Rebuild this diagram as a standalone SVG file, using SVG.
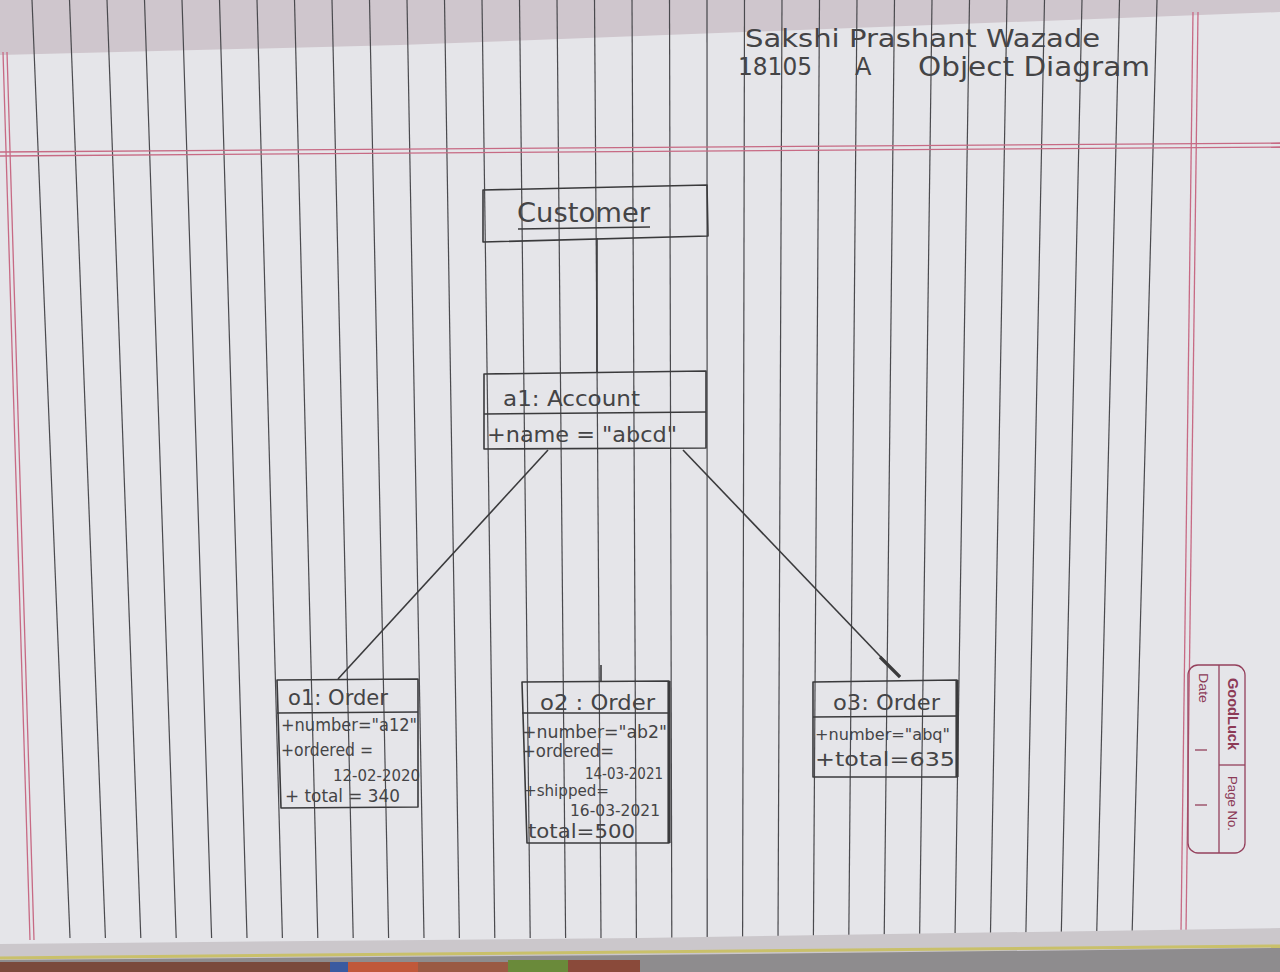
<svg xmlns="http://www.w3.org/2000/svg" width="1280" height="972" viewBox="0 0 1280 972">
<defs>
<style>
.rule{stroke:#4a4a4e;stroke-width:1.2;fill:none}
.red{stroke:#c76a84;stroke-width:1.3;fill:none}
.ink{stroke:#3a3a3c;stroke-width:1.6;fill:none;stroke-linejoin:round}
.thick{stroke:#3a3a3c;stroke-width:3.2;fill:none}
.hw{font-family:"DejaVu Sans","Liberation Sans",sans-serif;fill:#444446}
.stamp{stroke:#94405c;stroke-width:1.3;fill:none}
.st{font-family:"Liberation Sans",Arial,sans-serif;fill:#8c3a56}
</style>
</defs>
<g id="page">
<rect x="0" y="0" width="1280" height="972" fill="#e5e5e9"/>
<polygon points="0,0 1280,0 1280,12 800,30 400,45 0,55" fill="#cfc6cd"/>
<g class="rule">
<line x1="32" y1="0" x2="70" y2="938"/>
<line x1="69.5" y1="0" x2="105.4" y2="938"/>
<line x1="107" y1="0" x2="140.8" y2="938"/>
<line x1="144.5" y1="0" x2="176.2" y2="938"/>
<line x1="182" y1="0" x2="211.6" y2="938"/>
<line x1="219.5" y1="0" x2="247" y2="938"/>
<line x1="257" y1="0" x2="282.4" y2="938"/>
<line x1="294.5" y1="0" x2="317.8" y2="938"/>
<line x1="332" y1="0" x2="353.2" y2="938"/>
<line x1="369.5" y1="0" x2="388.6" y2="938"/>
<line x1="407" y1="0" x2="424" y2="938"/>
<line x1="444.5" y1="0" x2="459.4" y2="938"/>
<line x1="482" y1="0" x2="494.8" y2="938"/>
<line x1="519.5" y1="0" x2="530.2" y2="938"/>
<line x1="557" y1="0" x2="565.6" y2="938"/>
<line x1="594.5" y1="0" x2="601" y2="938"/>
<line x1="632" y1="0" x2="636.4" y2="938"/>
<line x1="669.5" y1="0" x2="671.8" y2="938"/>
<line x1="707" y1="0" x2="707.2" y2="938"/>
<line x1="744.5" y1="0" x2="742.6" y2="938"/>
<line x1="782" y1="0" x2="778" y2="938"/>
<line x1="819.5" y1="0" x2="813.4" y2="938"/>
<line x1="857" y1="0" x2="848.8" y2="938"/>
<line x1="894.5" y1="0" x2="884.2" y2="938"/>
<line x1="932" y1="0" x2="919.6" y2="938"/>
<line x1="969.5" y1="0" x2="955" y2="938"/>
<line x1="1007" y1="0" x2="990.4" y2="938"/>
<line x1="1044.5" y1="0" x2="1025.8" y2="938"/>
<line x1="1082" y1="0" x2="1061.2" y2="938"/>
<line x1="1119.5" y1="0" x2="1096.6" y2="938"/>
<line x1="1157" y1="0" x2="1132" y2="938"/>
</g>
<g class="red">
<line x1="3" y1="52" x2="30" y2="940"/>
<line x1="7" y1="52" x2="34" y2="940"/>
<line x1="0" y1="152" x2="1280" y2="143"/>
<line x1="0" y1="156" x2="1280" y2="147"/>
<line x1="1193" y1="12" x2="1181" y2="932"/>
<line x1="1198" y1="12" x2="1186" y2="932"/>
</g>
<polygon points="0,944 640,938 1280,928 1280,972 0,972" fill="#cbc7cb"/>
<polygon points="0,960 640,955 1280,948 1280,972 0,972" fill="#8e8c8e"/>
<rect x="0" y="962" width="330" height="10" fill="#7a4a3c"/>
<rect x="330" y="962" width="18" height="10" fill="#3a5aa0"/>
<rect x="348" y="962" width="70" height="10" fill="#c0583a"/>
<rect x="418" y="962" width="90" height="10" fill="#9a5a44"/>
<rect x="508" y="960" width="60" height="12" fill="#6a8a3a"/>
<rect x="568" y="960" width="72" height="12" fill="#8a4a3a"/>
<line x1="0" y1="958" x2="1280" y2="946" stroke="#c9c06a" stroke-width="3"/>
</g>
<g id="header">
<text class="hw" x="745" y="47" font-size="24" textLength="355" lengthAdjust="spacingAndGlyphs">Sakshi Prashant Wazade</text>
<text class="hw" x="738" y="75" font-size="24" textLength="74" lengthAdjust="spacingAndGlyphs">18105</text>
<text class="hw" x="855" y="75" font-size="24">A</text>
<text class="hw" x="918" y="76" font-size="26" textLength="232" lengthAdjust="spacingAndGlyphs">Object Diagram</text>
</g>
<g id="connectors">
<line class="ink" x1="597" y1="238" x2="597" y2="372"/>
<line class="ink" x1="548" y1="450" x2="338" y2="679"/>
<line class="ink" x1="683" y1="450" x2="900" y2="677"/>
<line class="thick" x1="880" y1="657" x2="900" y2="677"/>
<line class="ink" x1="601" y1="665" x2="601" y2="682"/>
</g>
<g id="customer">
<polygon class="ink" points="483,190 707,185 708,236 483,242"/>
<text class="hw" x="517" y="222" font-size="26" textLength="133" lengthAdjust="spacingAndGlyphs">Customer</text>
<line class="ink" x1="518" y1="229" x2="650" y2="227"/>
</g>
<g id="account">
<polygon class="ink" points="484,374 706,371 706,448 484,449"/>
<line class="ink" x1="484" y1="414" x2="706" y2="412"/>
<text class="hw" x="503" y="406" font-size="22" textLength="137" lengthAdjust="spacingAndGlyphs">a1: Account</text>
<text class="hw" x="487" y="442" font-size="21" textLength="190" lengthAdjust="spacingAndGlyphs">+name = "abcd"</text>
</g>
<g id="order1">
<polygon class="ink" points="277,680 418,679 418,807 281,808"/>
<line class="ink" x1="277" y1="713" x2="418" y2="712"/>
<text class="hw" x="288" y="705" font-size="21" textLength="100" lengthAdjust="spacingAndGlyphs">o1: Order</text>
<text class="hw" x="281" y="731" font-size="17" textLength="136" lengthAdjust="spacingAndGlyphs">+number="a12"</text>
<text class="hw" x="281" y="756" font-size="17" textLength="92" lengthAdjust="spacingAndGlyphs">+ordered =</text>
<text class="hw" x="333" y="781" font-size="16" textLength="87" lengthAdjust="spacingAndGlyphs">12-02-2020</text>
<text class="hw" x="285" y="802" font-size="18" textLength="115" lengthAdjust="spacingAndGlyphs">+ total = 340</text>
</g>
<g id="order2">
<polygon class="ink" points="522,682 669,681 669,843 527,843"/>
<line class="thick" x1="669" y1="681" x2="669" y2="843"/>
<line class="ink" x1="522" y1="713" x2="669" y2="713"/>
<text class="hw" x="540" y="710" font-size="21" textLength="115" lengthAdjust="spacingAndGlyphs">o2 : Order</text>
<text class="hw" x="522" y="738" font-size="17" textLength="145" lengthAdjust="spacingAndGlyphs">+number="ab2"</text>
<text class="hw" x="522" y="757" font-size="17" textLength="92" lengthAdjust="spacingAndGlyphs">+ordered=</text>
<text class="hw" x="585" y="779" font-size="15" textLength="78" lengthAdjust="spacingAndGlyphs">14-03-2021</text>
<text class="hw" x="524" y="796" font-size="16" textLength="85" lengthAdjust="spacingAndGlyphs">+shipped=</text>
<text class="hw" x="570" y="816" font-size="15" textLength="90" lengthAdjust="spacingAndGlyphs">16-03-2021</text>
<text class="hw" x="528" y="838" font-size="19" textLength="107" lengthAdjust="spacingAndGlyphs">total=500</text>
</g>
<g id="order3">
<polygon class="ink" points="813,682 957,680 957,777 813,777"/>
<line class="thick" x1="957" y1="680" x2="957" y2="777"/>
<line class="ink" x1="813" y1="717" x2="957" y2="716"/>
<text class="hw" x="833" y="710" font-size="21" textLength="107" lengthAdjust="spacingAndGlyphs">o3: Order</text>
<text class="hw" x="815" y="740" font-size="16" textLength="135" lengthAdjust="spacingAndGlyphs">+number="abq"</text>
<text class="hw" x="815" y="766" font-size="19" textLength="140" lengthAdjust="spacingAndGlyphs">+total=635</text>
</g>
<g id="stamp">
<rect class="stamp" x="1188" y="665" width="57" height="188" rx="10"/>
<line class="stamp" x1="1219" y1="665" x2="1219" y2="853"/>
<line class="stamp" x1="1219" y1="765" x2="1245" y2="765"/>
<line class="stamp" x1="1195" y1="750" x2="1207" y2="750"/>
<line class="stamp" x1="1195" y1="805" x2="1207" y2="805"/>
<text class="st" transform="translate(1228,678) rotate(90)" font-size="14" font-weight="bold" textLength="72" lengthAdjust="spacingAndGlyphs">GoodLuck</text>
<text class="st" transform="translate(1228,776) rotate(90)" font-size="13" textLength="55" lengthAdjust="spacingAndGlyphs">Page No.</text>
<text class="st" transform="translate(1199,673) rotate(90)" font-size="12" textLength="30" lengthAdjust="spacingAndGlyphs">Date</text>
</g>
</svg>
